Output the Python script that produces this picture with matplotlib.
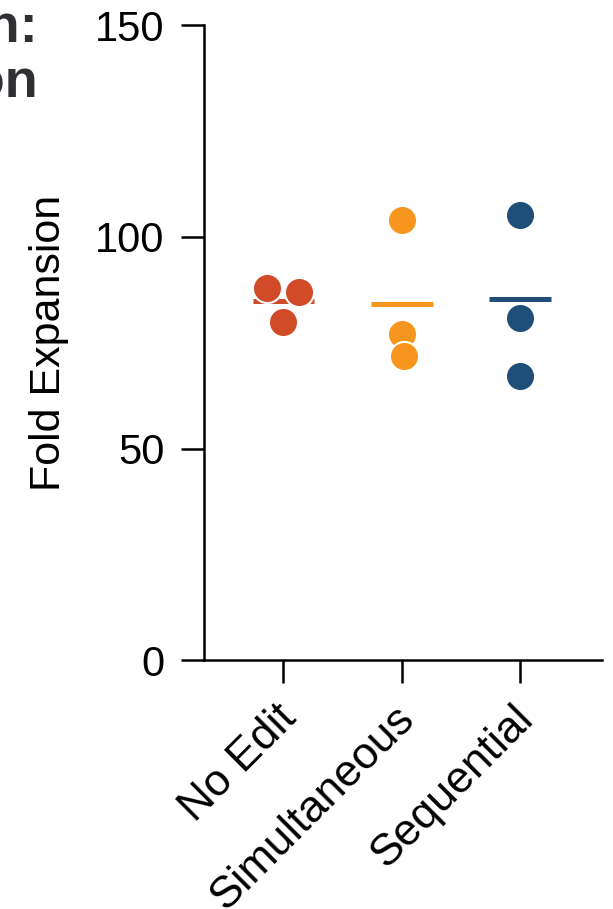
import matplotlib.pyplot as plt
import numpy as np

plt.rcParams['font.family'] = ['Liberation Sans', 'DejaVu Sans']

categories = ['No Edit', 'Simultaneous', 'Sequential']
values = [
    [88.0, 86.9, 80.0],
    [104.0, 77.1, 71.9],
    [105.2, 80.9, 67.1],
]
# horizontal spread of the dots, in category units
jitter = [
    [-0.14, 0.13, 0.0],
    [0.0, 0.0, 0.015],
    [0.0, 0.0, 0.0],
]
means = [84.9, 84.2, 85.3]
colors = ['#D24B28', '#F7961E', '#1F4E79']
title_lines = ['Cell Growth:', 'Expansion']

W, H = 613, 909
fig = plt.figure(figsize=(W / 100, H / 100), dpi=100)
ax = fig.add_axes([0.3328, 0.2739, 0.6492, 0.6981])

for i, (vals, offs, m, c) in enumerate(zip(values, jitter, means, colors)):
    ax.hlines(m, i - 0.26, i + 0.26, color=c, linewidth=3.6, zorder=2)
    ax.scatter(np.array(offs) + i, vals, s=440, color=c,
               edgecolors='white', linewidths=1.5, zorder=3)

ax.set_xlim(-0.67, 2.69)
ax.set_ylim(0, 150)
ax.set_yticks([0, 50, 100, 150])
ax.set_xticks(range(len(categories)))
ax.set_xticklabels([])

# rotated category labels, anchored at the end of their baseline
for i, lab in enumerate(categories):
    ax.annotate(lab, xy=(i, 0), xycoords=('data', 'axes fraction'),
                xytext=(15, -60), textcoords='offset pixels',
                rotation=45, rotation_mode='anchor', ha='right', va='baseline',
                fontsize=32, annotation_clip=False)

for side in ['top', 'right']:
    ax.spines[side].set_visible(False)
for side in ['left', 'bottom']:
    ax.spines[side].set_linewidth(1.8)

ax.tick_params(axis='both', length=16.5, width=1.8)
ax.tick_params(axis='y', pad=12, labelsize=30)
ax.set_ylabel('Fold Expansion', fontsize=31, labelpad=19)

# title is partly cut off at the left edge, as in the source
for txt, base in zip(title_lines, [41, 97]):
    fig.text(38 / W, 1 - base / H, txt, ha='right', va='baseline',
             fontsize=39, fontweight='bold', color='#2E3033')

fig.savefig('out.png', dpi=100)
